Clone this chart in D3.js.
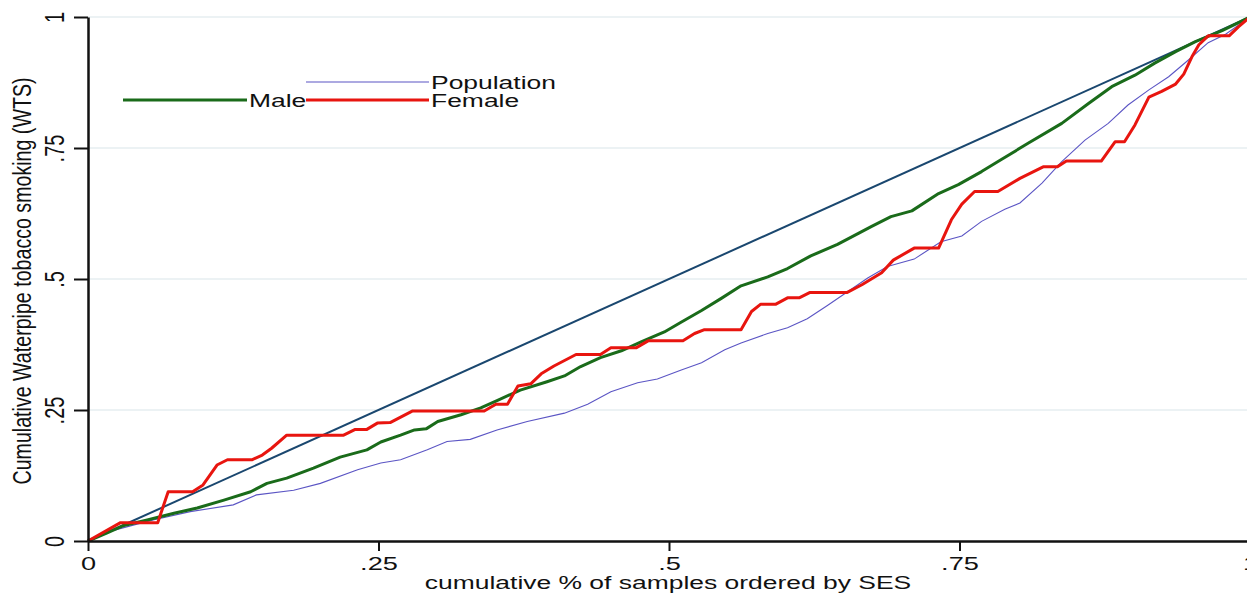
<!DOCTYPE html>
<html>
<head>
<meta charset="utf-8">
<script src="https://cdn.jsdelivr.net/npm/d3@7"></script>
<style>
  body { margin: 0; background: #fff; }
  svg { display: block; font-family: "Liberation Sans", Arial, sans-serif; }
</style>
</head>
<body>
<script>
// ticks
var tickValues = [0, .25, .5, .75, 1];
var tickLabels = ["0", ".25", ".5", ".75", "1"];

// series, [cumulative share of samples, cumulative WTS]
var equality = [[0, 0], [1, 1]];

var population = [[0,0],[0.013,0.015],[0.030,0.025],[0.056,0.040],[0.088,0.056],[0.125,0.069],
  [0.145,0.088],[0.177,0.097],[0.200,0.110],[0.232,0.136],[0.252,0.149],[0.269,0.155],
  [0.292,0.174],[0.309,0.190],[0.329,0.194],[0.352,0.212],[0.378,0.228],[0.410,0.244],
  [0.430,0.261],[0.450,0.285],[0.473,0.302],[0.490,0.309],[0.510,0.326],[0.528,0.340],
  [0.548,0.365],[0.562,0.378],[0.585,0.396],[0.602,0.407],[0.619,0.424],[0.636,0.449],
  [0.654,0.476],[0.671,0.502],[0.688,0.524],[0.711,0.538],[0.734,0.571],[0.752,0.582],
  [0.769,0.610],[0.789,0.633],[0.802,0.645],[0.821,0.683],[0.838,0.724],[0.858,0.765],
  [0.878,0.797],[0.895,0.832],[0.913,0.861],[0.930,0.886],[0.947,0.918],[0.964,0.951],
  [0.979,0.967],[1,1]];

var male = [[0,0],[0.016,0.015],[0.030,0.029],[0.051,0.040],[0.074,0.053],[0.094,0.063],
  [0.117,0.078],[0.140,0.094],[0.154,0.110],[0.171,0.120],[0.194,0.139],[0.217,0.160],
  [0.240,0.174],[0.252,0.189],[0.269,0.202],[0.281,0.212],[0.291,0.214],[0.301,0.228],
  [0.321,0.241],[0.338,0.254],[0.352,0.268],[0.372,0.288],[0.395,0.304],[0.410,0.315],
  [0.424,0.333],[0.441,0.350],[0.459,0.363],[0.476,0.380],[0.496,0.399],[0.510,0.417],
  [0.528,0.440],[0.545,0.463],[0.562,0.487],[0.585,0.504],[0.602,0.520],[0.622,0.544],
  [0.645,0.566],[0.663,0.587],[0.674,0.600],[0.691,0.619],[0.709,0.630],[0.732,0.663],
  [0.749,0.680],[0.769,0.705],[0.786,0.728],[0.809,0.759],[0.838,0.797],[0.861,0.835],
  [0.881,0.867],[0.901,0.889],[0.918,0.912],[0.936,0.934],[0.953,0.953],[0.976,0.974],[1,1]];

var female = [[0,0],[0.028,0.035],[0.060,0.035],[0.069,0.094],[0.090,0.094],[0.099,0.107],
  [0.111,0.145],[0.120,0.155],[0.141,0.155],[0.150,0.164],[0.158,0.177],[0.171,0.202],
  [0.220,0.202],[0.230,0.213],[0.240,0.213],[0.249,0.225],[0.260,0.226],[0.279,0.248],
  [0.341,0.248],[0.351,0.261],[0.361,0.261],[0.370,0.296],[0.381,0.300],[0.390,0.319],
  [0.401,0.334],[0.420,0.356],[0.441,0.356],[0.450,0.369],[0.472,0.369],[0.482,0.382],
  [0.512,0.382],[0.522,0.396],[0.530,0.403],[0.562,0.403],[0.571,0.438],[0.579,0.452],
  [0.592,0.452],[0.602,0.464],[0.612,0.464],[0.621,0.474],[0.653,0.474],[0.666,0.489],
  [0.683,0.512],[0.693,0.536],[0.711,0.559],[0.732,0.559],[0.743,0.613],[0.752,0.643],
  [0.763,0.667],[0.783,0.667],[0.802,0.692],[0.822,0.714],[0.834,0.714],[0.842,0.725],
  [0.872,0.725],[0.884,0.762],[0.892,0.762],[0.901,0.794],[0.913,0.847],[0.924,0.858],
  [0.936,0.872],[0.943,0.891],[0.950,0.924],[0.956,0.947],[0.964,0.964],[0.982,0.964],
  [0.990,0.981],[1,1]];

var W = 1247, H = 594;
var stretch = 1.43; // text in the original is widened horizontally

var svg = d3.select("body").append("svg")
  .attr("width", W)
  .attr("height", H);

var x = d3.scaleLinear().domain([0, 1]).range([88, 1250]);
var y = d3.scaleLinear().domain([0, 1]).range([541, 17]);

// grid
svg.append("g").selectAll("line")
  .data(tickValues.slice(1))
  .enter().append("line")
  .attr("x1", x(0)).attr("x2", W)
  .attr("y1", d => y(d)).attr("y2", d => y(d))
  .style("stroke", "#e6eef1")
  .style("stroke-width", 1.5);

var line = d3.line().x(d => x(d[0])).y(d => y(d[1]));

svg.append("path").datum(equality).attr("d", line)
  .style("fill", "none").style("stroke", "#1a476f").style("stroke-width", 2);
svg.append("path").datum(population).attr("d", line)
  .style("fill", "none").style("stroke", "#5b55c4").style("stroke-width", 1.1);
svg.append("path").datum(male).attr("d", line)
  .style("fill", "none").style("stroke", "#1a6b1a").style("stroke-width", 3)
  .style("stroke-linejoin", "round");
svg.append("path").datum(female).attr("d", line)
  .style("fill", "none").style("stroke", "#e8150f").style("stroke-width", 3)
  .style("stroke-linejoin", "round");

// axes
var yAxis = svg.append("g")
  .attr("transform", "translate(" + x(0) + ",0)")
  .call(d3.axisLeft(y).tickValues(tickValues).tickSize(14).tickSizeOuter(0)
    .tickFormat((d, i) => tickLabels[i]));
yAxis.select(".domain").style("stroke", "#111").style("stroke-width", 2.5);
yAxis.selectAll(".tick line").style("stroke", "#111").style("stroke-width", 2);
yAxis.selectAll(".tick text")
  .attr("x", null).attr("dy", null)
  .attr("transform", "translate(-24,0) scale(1.4,1) rotate(-90)")
  .attr("text-anchor", "middle")
  .style("font-size", "20px").style("fill", "#111");

var xAxis = svg.append("g")
  .attr("transform", "translate(0," + y(0) + ")")
  .call(d3.axisBottom(x).tickValues(tickValues).tickSize(10).tickSizeOuter(0)
    .tickFormat((d, i) => tickLabels[i]));
xAxis.select(".domain").style("stroke", "#111").style("stroke-width", 2.5);
xAxis.selectAll(".tick line").style("stroke", "#111").style("stroke-width", 2);
xAxis.selectAll(".tick text")
  .attr("y", null).attr("dy", null)
  .attr("transform", "translate(0,29) scale(" + stretch + ",1)")
  .attr("text-anchor", "middle")
  .style("font-size", "19px").style("fill", "#111");

// titles
svg.append("text")
  .attr("transform", "translate(668,589) scale(" + stretch + ",1)")
  .attr("text-anchor", "middle")
  .style("font-size", "18.5px").style("fill", "#111")
  .text("cumulative % of samples ordered by SES");

svg.append("text")
  .attr("transform", "translate(31,281) scale(1.4,1) rotate(-90)")
  .attr("text-anchor", "middle")
  .attr("textLength", 407).attr("lengthAdjust", "spacingAndGlyphs")
  .style("font-size", "18px").style("fill", "#111")
  .text("Cumulative Waterpipe tobacco smoking (WTS)");

// legend
var legendNames = ["Population", "Male", "Female"];
var legendColors = ["#5b55c4", "#1a6b1a", "#e8150f"];
var legendWidths = [1.1, 3, 3];
var legendPos = [[306, 429, 82], [123, 247, 100], [306, 429, 100]];

legendNames.forEach(function(name, i) {
  var p = legendPos[i];
  svg.append("line")
    .attr("x1", p[0]).attr("x2", p[1]).attr("y1", p[2]).attr("y2", p[2])
    .style("stroke", legendColors[i]).style("stroke-width", legendWidths[i]);
  svg.append("text")
    .attr("transform", "translate(" + (p[1] + 2) + "," + (p[2] + 7) + ") scale(" + stretch + ",1)")
    .style("font-size", "18.5px").style("fill", "#111")
    .text(name);
});
</script>
</body>
</html>
